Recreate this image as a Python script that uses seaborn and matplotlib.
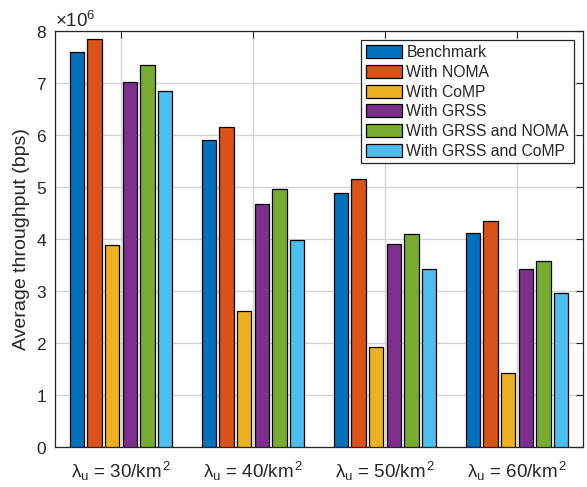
import matplotlib
matplotlib.use("Agg")
import matplotlib.pyplot as plt
import seaborn as sns
import pandas as pd

categories = [r"$\mathrm{\lambda_u}$ = 30/km$^{\,\mathrm{2}}$",
              r"$\mathrm{\lambda_u}$ = 40/km$^{\,\mathrm{2}}$",
              r"$\mathrm{\lambda_u}$ = 50/km$^{\,\mathrm{2}}$",
              r"$\mathrm{\lambda_u}$ = 60/km$^{\,\mathrm{2}}$"]
schemes = ["Benchmark", "With NOMA", "With CoMP", "With GRSS",
           "With GRSS and NOMA", "With GRSS and CoMP"]
benchmark = [7.60e6, 5.90e6, 4.88e6, 4.11e6]
with_noma = [7.84e6, 6.16e6, 5.15e6, 4.35e6]
with_comp = [3.88e6, 2.61e6, 1.92e6, 1.42e6]
with_grss = [7.01e6, 4.68e6, 3.90e6, 3.42e6]
with_grss_noma = [7.34e6, 4.96e6, 4.10e6, 3.58e6]
with_grss_comp = [6.84e6, 3.98e6, 3.42e6, 2.96e6]
colors = ["#0072BD", "#D95319", "#EDB120", "#7E2F8E", "#77AC30", "#4DBEEE"]

series = [benchmark, with_noma, with_comp, with_grss, with_grss_noma, with_grss_comp]
rows = []
for s, vals in zip(schemes, series):
    for c, v in zip(categories, vals):
        rows.append({"density": c, "scheme": s, "throughput": v})
df = pd.DataFrame(rows)

sns.set_theme(style="white")
plt.rcParams["font.family"] = ["Liberation Sans", "DejaVu Sans"]
plt.rcParams["mathtext.fontset"] = "custom"
plt.rcParams["mathtext.rm"] = "Liberation Sans"
plt.rcParams["mathtext.it"] = "Liberation Sans:italic"
plt.rcParams["mathtext.bf"] = "Liberation Sans:bold"

fig = plt.figure(figsize=(5.87, 4.87), dpi=100)
ax = fig.add_axes([55/587, 1-447/487, (583-55)/587, (447-31)/487])

sns.barplot(data=df, x="density", y="throughput", hue="scheme",
            order=categories, hue_order=schemes, palette=colors,
            saturation=1, width=0.8, gap=0.19, errorbar=None,
            edgecolor="black", linewidth=0.9, ax=ax, zorder=3)

ax.set_xlim(-0.5, 3.5)
ax.set_ylim(0, 8e6)
ax.set_yticks([i * 1e6 for i in range(9)])
ax.ticklabel_format(axis="y", style="sci", scilimits=(0, 0), useMathText=True)
ax.yaxis.get_offset_text().set_fontsize(13.5)
ax.yaxis.get_offset_text().set_color("#262626")

ax.set_xlabel("")
ax.set_ylabel("Average throughput (bps)", fontsize=14, color="#262626", labelpad=4)

ax.grid(True, axis="both", color="#d4d4d4", linewidth=1.0, zorder=0)
ax.set_axisbelow(True)
ax.tick_params(axis="both", which="both", direction="in", top=True, right=True,
               length=5, width=0.8, color="#262626", labelsize=12.5,
               labelcolor="#262626", pad=6)
ax.tick_params(axis="x", pad=9, labelsize=13.5)
for sp in ax.spines.values():
    sp.set_color("#262626")
    sp.set_linewidth(0.9)
    sp.set_visible(True)

leg = ax.legend(loc="upper right", fontsize=11.3, frameon=True, fancybox=False,
                handlelength=2.3, handleheight=0.9, handletextpad=0.3,
                labelspacing=0.3, borderpad=0.3, borderaxespad=0.6,
                title=None)
leg.get_frame().set_edgecolor("#262626")
leg.get_frame().set_linewidth(0.9)
leg.get_frame().set_alpha(1)

fig.savefig("out.png", dpi=100)
